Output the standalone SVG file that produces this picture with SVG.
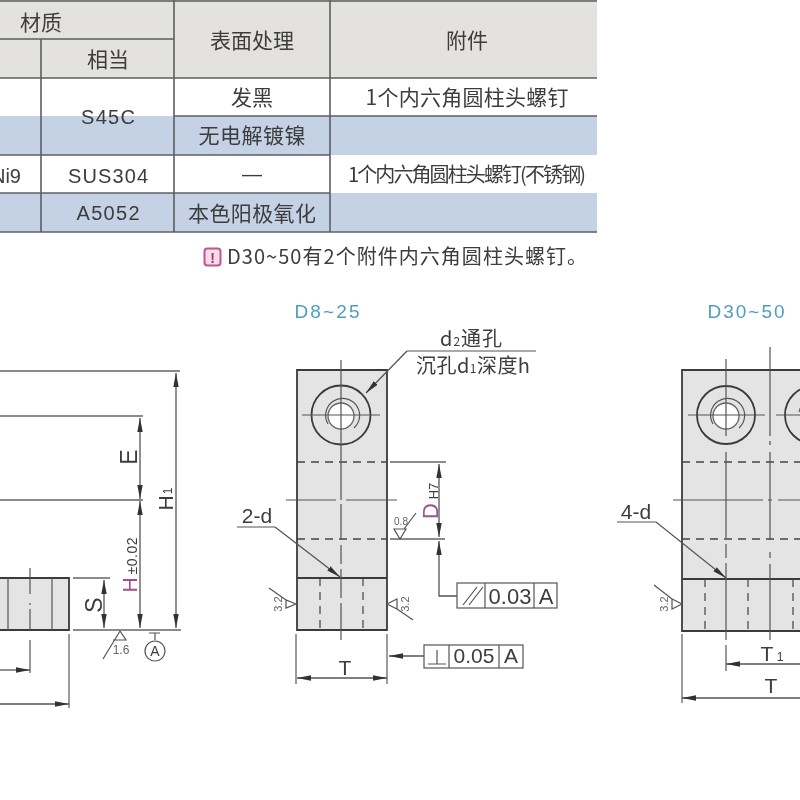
<svg xmlns="http://www.w3.org/2000/svg" width="800" height="800" viewBox="0 0 800 800">
<style>
.t{font-family:"Noto Sans CJK SC","Liberation Sans",sans-serif;font-size:21px;fill:#3c3c3c;text-anchor:middle}
.l{font-family:"Liberation Sans","Noto Sans CJK SC",sans-serif;font-size:20px;fill:#3c3c3c;text-anchor:middle}
.tl{stroke:#5a5f62;stroke-width:1.6;fill:none}
.o{stroke:#3a3a3a;stroke-width:1.8;fill:none}
.th{stroke:#555;stroke-width:1.2;fill:none}
.ext{stroke:#666;stroke-width:1.3;fill:none}
.hid{stroke:#444;stroke-width:1.3;fill:none;stroke-dasharray:8 6}
.dim{stroke:#555;stroke-width:1.3;fill:none;marker-start:url(#a);marker-end:url(#a)}
.lead{stroke:#555;stroke-width:1.3;fill:none;marker-end:url(#a)}
.part{fill:#e4e4e4}
</style>
<defs>
<marker id="a" markerUnits="userSpaceOnUse" markerWidth="16" markerHeight="8" refX="14" refY="4" orient="auto-start-reverse"><path d="M0 1.300L14 4L0 6.700Z" fill="#333"/></marker>
<filter id="b" x="-5%" y="-5%" width="110%" height="110%"><feGaussianBlur stdDeviation="0.4"/></filter>
</defs>
<rect width="800" height="800" fill="#fff"/>
<g filter="url(#b)">
<g id="table">
<rect x="0" y="0" width="597" height="78" fill="#e3e2df"/>
<rect x="0" y="116" width="597" height="39" fill="#c5d1e4"/>
<rect x="0" y="193" width="597" height="39" fill="#c5d1e4"/>
<path class="tl" d="M0 1H597M0 39H174M0 78H597M174 116H597M0 155H330M0 193H330M0 232H597M41 39V232M174 0V232M330 0V232"/>
<text class="t" x="41" y="30">材质</text>
<text class="t" x="108" y="67">相当</text>
<text class="t" x="252" y="48">表面处理</text>
<text class="t" x="467" y="48">附件</text>
<text class="t" x="252" y="105">发黑</text>
<text class="t" x="467" y="105" textLength="203">1个内六角圆柱头螺钉</text>
<text class="l" x="108" y="124" textLength="54">S45C</text>
<text class="t" x="252" y="143" textLength="107">无电解镀镍</text>
<text class="l" x="21" y="183" style="text-anchor:end">Ni9</text>
<text class="l" x="108" y="183" textLength="80">SUS304</text>
<text class="l" x="252" y="181" textLength="19">—</text>
<text class="t" x="467" y="182" textLength="238" style="font-size:20px">1个内六角圆柱头螺钉(不锈钢)</text>
<text class="l" x="108" y="220" textLength="63">A5052</text>
<text class="t" x="252" y="221" textLength="128">本色阳极氧化</text>
</g>
<g id="note">
<rect x="204.500" y="248.500" width="16" height="17" rx="3" fill="#f6dbe8" stroke="#c4548f" stroke-width="2"/>
<text x="212.500" y="263" font-family="Liberation Sans,sans-serif" font-size="14" font-weight="bold" fill="#a8326f" text-anchor="middle">!</text>
<text class="t" x="407" y="264" textLength="360" style="font-size:20px">D30~50有2个附件内六角圆柱头螺钉。</text>
</g>
<text class="l" x="327" y="318" style="font-size:19px;fill:#4f9dbf" textLength="65">D8~25</text>
<text class="l" x="746" y="318" style="font-size:19px;fill:#4f9dbf" textLength="77">D30~50</text>

<g id="view-side">
<rect class="part" x="-5" y="578" width="74" height="52"/>
<path class="o" d="M0 578H69V630H0"/>
<path class="th" d="M8 578V630M52 578V630"/>
<path class="ext" d="M0 371H180M0 416H143M0 500H143M73 578H110M73 630H181M69 634V708"/>
<path class="th" d="M30 568V594M30 603V605M30 609V630M30 640V673"/>
<path class="lead" d="M0 670H30"/>
<path class="lead" d="M0 704H69"/>
<path class="dim" d="M176 373V628"/>
<path class="dim" d="M140 418V499"/>
<path class="dim" d="M140 501V628"/>
<path class="dim" d="M104 580V628"/>
<text class="l" transform="translate(137 457) rotate(-90)" style="font-size:23px">E</text>
<text class="l" transform="translate(173 503) rotate(-90)" style="font-size:21px">H</text>
<text class="l" transform="translate(172 491) rotate(-90)" style="font-size:12px">1</text>
<text class="l" transform="translate(137 585) rotate(-90)" style="font-size:21px;fill:#a0508f">H</text>
<text class="l" transform="translate(137 556) rotate(-90)" textLength="37" style="font-size:14px">±0.02</text>
<text class="l" transform="translate(102 605) rotate(-90)" style="font-size:23px">S</text>
<path class="th" d="M103 659L120 631L126 640H113"/>
<text class="l" x="121" y="654" style="font-size:12px;fill:#666">1.6</text>
<path class="th" d="M149 633H160M155 633V640"/>
<circle class="th" cx="155" cy="651" r="10"/>
<text class="l" x="155" y="656" style="font-size:14px">A</text>
</g>

<g id="view-d8">
<rect class="part" x="297" y="370" width="90" height="261"/>
<path class="o" d="M297 370H387V630H297ZM297 578H387"/>
<circle cx="341" cy="416" r="13" fill="#fff" stroke="#666" stroke-width="1.3"/>
<path class="th" d="M328 424A17 17 0 1 1 354 428"/>
<circle class="o" cx="341" cy="415" r="29.500"/>
<path class="hid" d="M297 462H387M297 539H387"/>
<path class="hid" d="M320 578V630M363 578V630" style="stroke-width:1.2"/>
<path class="th" d="M341 360V500M341 504V540M341 545V564M341 569V598M341 603V640M302 415H380M286 500H336M346 500H397"/>
<path class="ext" d="M296 634V684M387 634V684M390 462H446M390 539H445"/>
<path class="dim" d="M297 678H387"/>
<text class="l" x="345" y="675" style="font-size:21px">T</text>
<path class="dim" d="M439 464V537"/>
<path class="lead" d="M457 596H439V541"/>
<text class="l" transform="translate(438 511) rotate(-90)" style="font-size:22px;fill:#a0508f">D</text>
<text class="l" transform="translate(438 491) rotate(-90)" style="font-size:13px">H7</text>
<path class="th" d="M407 351H536"/>
<path class="lead" d="M407 351L366 393"/>
<text class="t" x="471" y="346" textLength="62" style="font-size:20px">d<tspan style="font-size:12px">2</tspan>通孔</text>
<text class="t" x="473" y="373" textLength="114" style="font-size:20px">沉孔d<tspan style="font-size:12px">1</tspan>深度h</text>
<text class="l" x="257" y="523" style="font-size:21px">2-d</text>
<path class="th" d="M237 527H275"/>
<path class="lead" d="M275 527L340 577"/>
<path class="th" d="M394 529H406L400 539ZM404 529L416 513"/>
<text class="l" x="401" y="525" style="font-size:10px;fill:#666">0.8</text>
<path class="th" d="M296 604L286 600V608ZM269 588L286 600"/>
<text class="l" transform="translate(282 604) rotate(-90)" style="font-size:11px;fill:#666">3.2</text>
<path class="th" d="M387 604L397 599V609ZM397 609L413 620"/>
<text class="l" transform="translate(409 604) rotate(-90)" style="font-size:11px;fill:#666">3.2</text>
<g id="fcf1"><rect class="th" x="457" y="583" width="100" height="25" fill="#fff"/>
<path class="th" d="M485 583V608M534 583V608M463 605L477 587M469 605L483 587"/>
<text class="l" x="510" y="604" style="font-size:22px">0.03</text><text class="l" x="546" y="604" style="font-size:22px">A</text></g>
<g id="fcf2"><rect class="th" x="424" y="645" width="99" height="23"/>
<path class="th" d="M449 645V668M428 664H446M437 650V664M499 645V668"/>
<text class="l" x="474" y="663" style="font-size:21px">0.05</text><text class="l" x="511" y="663" style="font-size:21px">A</text></g>
<path class="lead" d="M424 656H389"/>
</g>

<g id="view-d30">
<rect class="part" x="682" y="370" width="120" height="261"/>
<path class="o" d="M802 370H682V631H802M682 579H802"/>
<circle cx="726" cy="416" r="13" fill="#fff" stroke="#666" stroke-width="1.3"/>
<path class="th" d="M713 424A17 17 0 1 1 739 428"/>
<circle class="o" cx="726" cy="415" r="29"/>
<circle class="o" cx="814" cy="415" r="29"/>
<path class="th" d="M799 412A17 17 0 0 1 810 399"/>
<path class="hid" d="M682 462H802M682 539H802"/>
<path class="hid" d="M705 579V631M748 579V631M793 579V631" style="stroke-width:1.2"/>
<path class="th" d="M726 359V436M726 452V538M726 544V558M726 563V640M726 645V671M770 347V436M770 441V445M770 452V540M770 552V558M770 564V640M688 415H765M776 415H802M673 500H763M768 500H772M778 500H802"/>
<path class="ext" d="M682 634V703"/>
<path class="lead" d="M800 664H726"/>
<path class="lead" d="M800 698H682"/>
<text class="l" x="767" y="661" style="font-size:21px">T</text><text class="l" x="780" y="661" style="font-size:12px">1</text>
<text class="l" x="771" y="693" style="font-size:21px">T</text>
<text class="l" x="636" y="519" style="font-size:21px">4-d</text>
<path class="th" d="M617 522H656"/>
<path class="lead" d="M656 522L726 578"/>
<path class="th" d="M682 604L672 599V609ZM654 585L672 599"/>
<text class="l" transform="translate(668 604) rotate(-90)" style="font-size:11px;fill:#666">3.2</text>
</g>
</g>
</svg>
